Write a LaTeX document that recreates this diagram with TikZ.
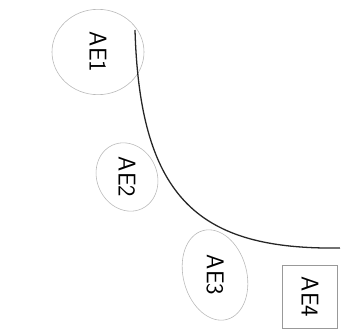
\documentclass[tikz,border=0pt]{standalone}
\usetikzlibrary{positioning, shapes.geometric, calc}

\begin{document}
\begin{tikzpicture}[
        x=0.03cm, y=-0.03cm,
        aelabel/.style={font=\sffamily\huge, inner sep=0pt, rotate=-90},
        aeblob/.style={draw=gray!55, line width=0.5pt},
        aebox/.style={rectangle, draw=gray!80, line width=0.6pt, font=\sffamily\huge, inner sep=0pt, rotate=-90},
        arc/.style={black!85, line width=1.1pt},
    ]
        \useasboundingbox (0,0) rectangle (351,335);

        \node[aelabel] (ae1) at (98,52) {AE1};
        \node[aelabel] (ae2) at (127,177) {AE2};
        \node[aelabel] (ae3) at (215,275) {AE3};
        \node[aebox, minimum width=1.9cm, minimum height=1.65cm] (ae4) at (310,297) {AE4};

        % outlines round the labels
        \draw[aeblob] (ae1.center) ellipse (1.38cm and 1.28cm);
        \draw[aeblob, rotate around={25:(ae2.center)}] (ae2.center) ellipse (0.9cm and 1.05cm);
        \draw[aeblob, rotate around={15:(ae3.center)}] (ae3.center) ellipse (0.95cm and 1.38cm);

        \coordinate (top) at (135,30);
        \coordinate (end) at (340,248);

        \draw[arc] (top) .. controls (140,200) and (200,250) .. (end);
    \end{tikzpicture}
\end{document}
